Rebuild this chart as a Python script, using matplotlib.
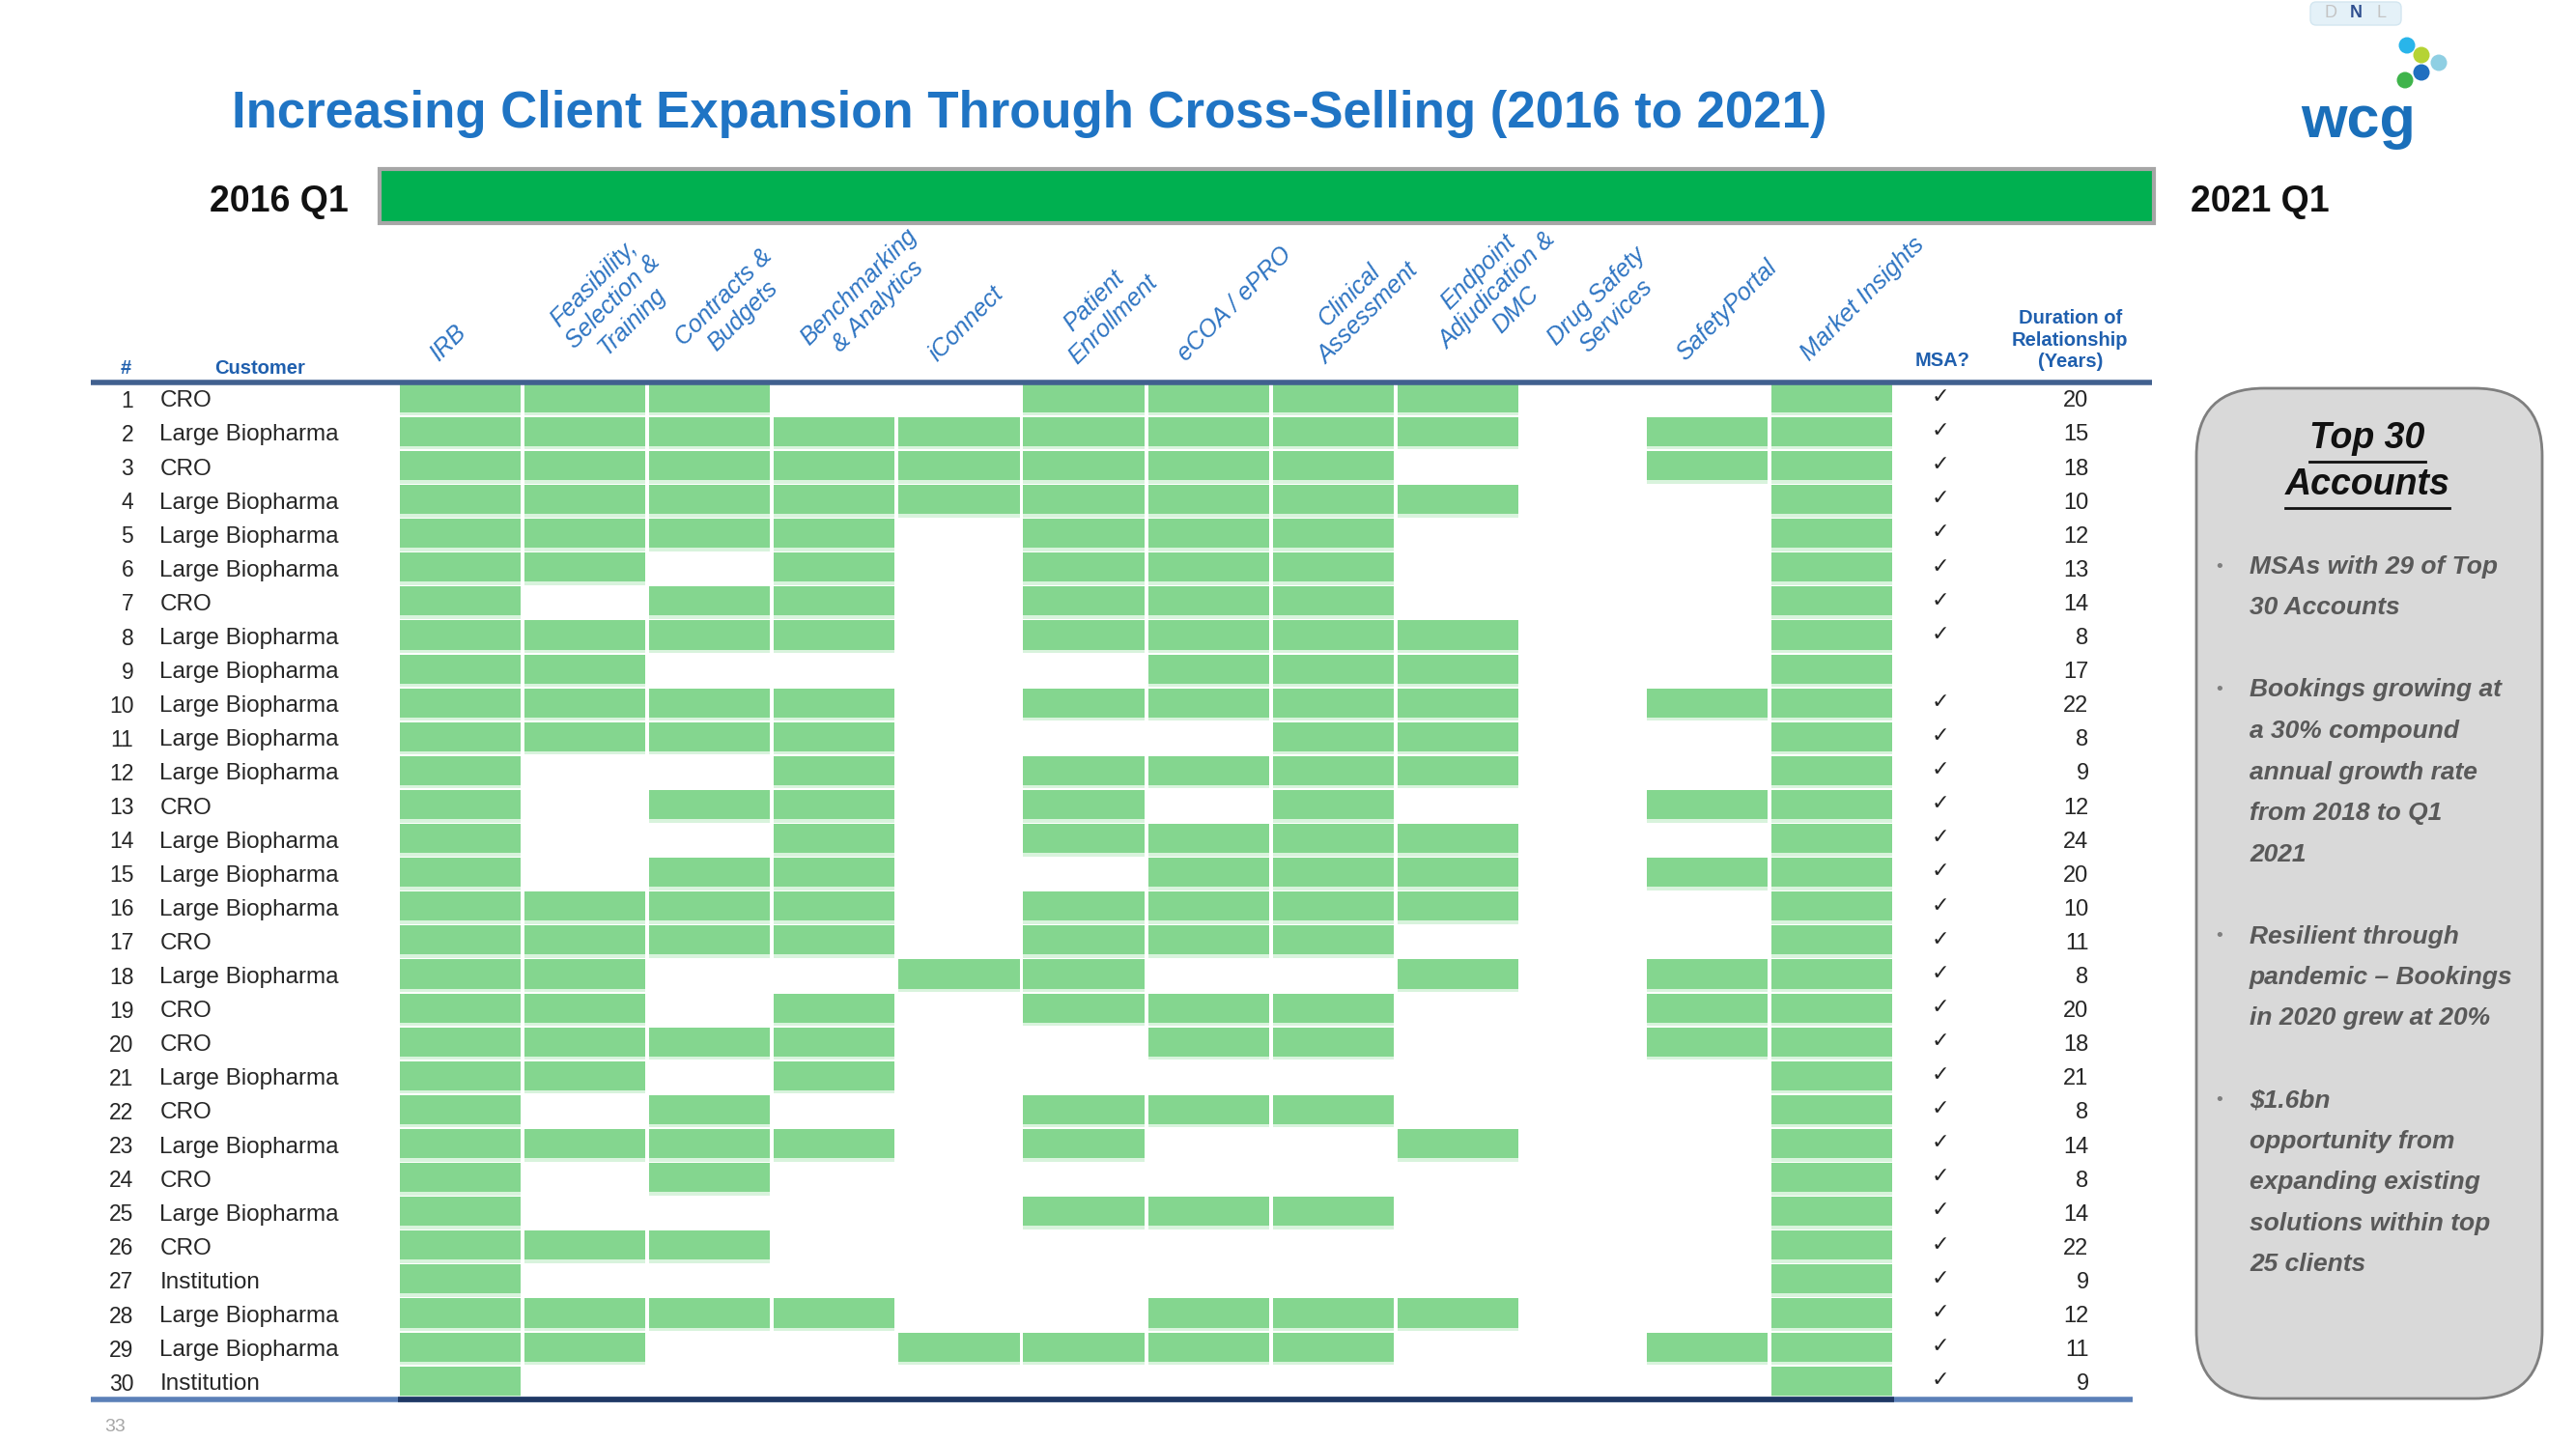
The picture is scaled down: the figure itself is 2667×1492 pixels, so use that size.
import numpy as np
import matplotlib
matplotlib.use("Agg")
import matplotlib.pyplot as plt
from matplotlib.patches import FancyBboxPatch, Rectangle, Circle

plt.rcParams['font.family'] = ['Liberation Sans', 'DejaVu Sans']

title = "Increasing Client Expansion Through Cross-Selling (2016 to 2021)"
start_label = "2016 Q1"
end_label = "2021 Q1"

services = ["IRB", "Feasibility,\nSelection &\nTraining", "Contracts &\nBudgets",
            "Benchmarking\n& Analytics", "iConnect", "Patient\nEnrollment", "eCOA / ePRO",
            "Clinical\nAssessment", "Endpoint\nAdjudication &\nDMC", "Drug Safety\nServices",
            "SafetyPortal", "Market Insights"]

customers = ["CRO", "Large Biopharma", "CRO", "Large Biopharma", "Large Biopharma",
             "Large Biopharma", "CRO", "Large Biopharma", "Large Biopharma", "Large Biopharma",
             "Large Biopharma", "Large Biopharma", "CRO", "Large Biopharma", "Large Biopharma",
             "Large Biopharma", "CRO", "Large Biopharma", "CRO", "CRO",
             "Large Biopharma", "CRO", "Large Biopharma", "CRO", "Large Biopharma",
             "CRO", "Institution", "Large Biopharma", "Large Biopharma", "Institution"]

# one string per customer, one flag per service (same order as services)
usage = ["111001111001", "111111111011", "111111110011", "111111111001", "111101110001",
         "110101110001", "101101110001", "111101111001", "110000111001", "111101111011",
         "111100011001", "100101111001", "101101010011", "100101111001", "101100111011",
         "111101111001", "111101110001", "110011001011", "110101110011", "111100110011",
         "110100000001", "101001110001", "111101001001", "101000000001", "100001110001",
         "111000000001", "100000000001", "111100111001", "110011110011", "100000000001"]

msa = [1, 1, 1, 1, 1, 1, 1, 1, 0, 1, 1, 1, 1, 1, 1,
       1, 1, 1, 1, 1, 1, 1, 1, 1, 1, 1, 1, 1, 1, 1]

duration = [20, 15, 18, 10, 12, 13, 14, 8, 17, 22, 8, 9, 12, 24, 20,
            10, 11, 8, 20, 18, 21, 8, 14, 8, 14, 22, 9, 12, 11, 9]

box_title = ["Top 30", "Accounts"]
box_bullets = [
    ["MSAs with 29 of Top", "30 Accounts"],
    ["Bookings growing at", "a 30% compound", "annual growth rate", "from 2018 to Q1", "2021"],
    ["Resilient through", "pandemic \u2013 Bookings", "in 2020 grew at 20%"],
    ["\\$1.6bn", "opportunity from", "expanding existing", "solutions within top", "25 clients"],
]

W, H = 2667, 1492
fig = plt.figure(figsize=(W / 100, H / 100), dpi=100)

# overlay in pixel units for the slide decoration
ov = fig.add_axes([0, 0, 1, 1])
ov.set_xlim(0, W)
ov.set_ylim(H, 0)
ov.axis('off')

ov.text(240, 118, title, fontsize=38, fontweight='bold', color='#1f74c4', ha='left', va='center')

ov.add_patch(Rectangle((393, 175), 1837, 56, facecolor='#00b050', edgecolor='#a6a6a6', lw=3))
ov.text(361, 209, start_label, ha='right', va='center', fontsize=27, fontweight='bold', color='#111111')
ov.text(2268, 209, end_label, ha='left', va='center', fontsize=27, fontweight='bold', color='#111111')

# logo
ov.add_patch(FancyBboxPatch((2392, 2), 94, 24, boxstyle="round,pad=0,rounding_size=6",
                            facecolor='#e4f1f8', edgecolor='#d3e6f0', lw=1))
ov.text(2413, 14, "D", fontsize=13, color='#c4c4c4', ha='center', va='center')
ov.text(2439, 14, "N", fontsize=13, color='#2f4f8f', fontweight='bold', ha='center', va='center')
ov.text(2465, 14, "L", fontsize=13, color='#c4c4c4', ha='center', va='center')
for (cx, cy, c) in [(2492, 47, '#29b5ea'), (2507, 57, '#b5d334'), (2525, 65, '#8fcfe3'),
                    (2507, 75, '#1f6fc0'), (2490, 83, '#3fb44b')]:
    ov.add_patch(Circle((cx, cy), 8.5, color=c, lw=0))
ov.text(2442, 142, "wcg", fontsize=44, fontweight='bold', color='#1a6fba', ha='center', va='baseline')

ov.text(108, 1477, "33", fontsize=14, color='#a6a6a6', ha='left', va='center')

# right side box
ov.add_patch(FancyBboxPatch((2274, 402), 358, 1046, boxstyle="round,pad=0,rounding_size=70",
                            facecolor='#d9d9d9', edgecolor='#7f7f7f', lw=2))
title_texts = []
for k, line in enumerate(box_title):
    t = ov.text(2451, 454 + 48 * k, line, fontsize=27, fontweight='bold', style='italic',
                color='#111111', ha='center', va='center')
    title_texts.append(t)

y = 587
for group in box_bullets:
    ov.text(2298, y, "\u2022", fontsize=14, color='#7f7f7f', ha='center', va='center')
    for line in group:
        ov.text(2329, y, line, fontsize=19, fontweight='bold', style='italic',
                color='#595959', ha='left', va='center')
        y += 42.5
    y += 42.5

# table in column / row units
col_w = 129.1
gx0, gy0, gy1 = 412, 396, 1449
x_lo = (93.6 - gx0) / col_w
x_hi = (2228 - gx0) / col_w
ax = fig.add_axes([93.6 / W, 1 - gy1 / H, (2228 - 93.6) / W, (gy1 - gy0) / H])
ax.set_xlim(x_lo, x_hi)
ax.set_ylim(30, 0)
ax.axis('off')

grid = np.array([[c == '1' for c in r] for r in usage])
rows = np.arange(len(customers))
for j in range(len(services)):
    r = rows[grid[:, j]]
    ax.barh(r + 0.88, 0.97, left=j + 0.015, height=0.1, align='edge', color='#d8f3dc', lw=0)
    ax.barh(r + 0.02, 0.97, left=j + 0.015, height=0.86, align='edge', color='#84d68f', lw=0)

ax.plot([x_lo, x_hi], [0, 0], color='#41608f', lw=4, solid_capstyle='butt', clip_on=False)
ax.plot([x_lo, 13.91], [30, 30], color='#5b80b8', lw=4, solid_capstyle='butt', clip_on=False)
ax.plot([0, 12], [30, 30], color='#1f3864', lw=4, solid_capstyle='butt', clip_on=False)

for i, (cust, m, d) in enumerate(zip(customers, msa, duration)):
    yc = i + 0.55
    ax.text(-2.12, yc, str(i + 1), ha='right', va='center', fontsize=16.5, color='#262626')
    ax.text(-1.91, yc, cust, ha='left', va='center', fontsize=17.5, color='#262626')
    if m:
        ax.text(12.37, yc - 0.12, "\u2713", ha='center', va='center', fontsize=16,
                color='#262626', family='DejaVu Sans')
    ax.text(13.56, yc, str(d), ha='right', va='center', fontsize=17, color='#262626')

hdr = dict(color='#1f5fae', fontweight='bold', fontsize=14.5)
ax.text(-2.18, -0.4, "#", ha='center', va='center', **hdr)
ax.text(-1.11, -0.4, "Customer", ha='center', va='center', **hdr)
ax.text(12.39, -0.37, "MSA?", ha='center', va='bottom', **hdr)
ax.text(13.41, -0.33, "Duration of\nRelationship\n(Years)", ha='center', va='bottom',
        linespacing=1.25, **hdr)

for j, lab in enumerate(services):
    nl = lab.count("\n")
    ax.text(j + 0.5 - 0.28 - 0.03 * nl, -0.5 + 0.1 * nl, lab, rotation=45, ha='left',
            va='bottom', fontsize=18, style='italic', color='#2e74c2',
            multialignment='center', linespacing=1.2)

# underline the box heading
fig.canvas.draw()
inv = ov.transData.inverted()
for k, t in enumerate(title_texts):
    bb = t.get_window_extent()
    (x0, _), (x1, _) = inv.transform([[bb.x0, bb.y0], [bb.x1, bb.y1]])
    ov.plot([x0, x1], [454 + 48 * k + 24, 454 + 48 * k + 24], color='#111111', lw=2)

fig.savefig('out.png', dpi=100)
